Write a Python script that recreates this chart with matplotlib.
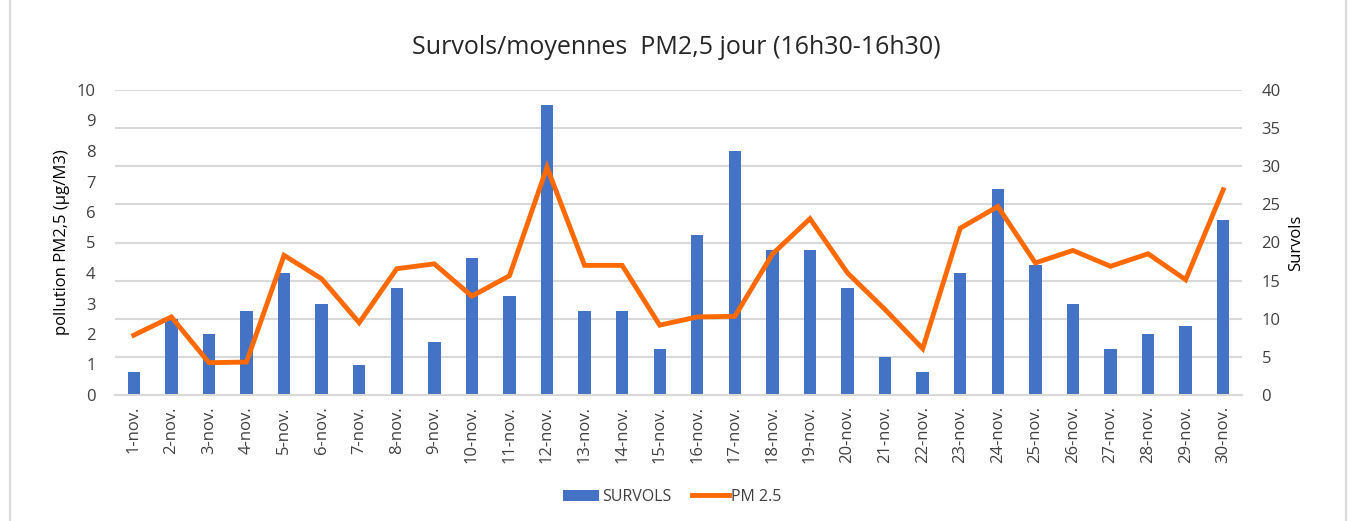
import matplotlib
matplotlib.use("Agg")
import matplotlib.pyplot as plt
from matplotlib.patches import Rectangle

plt.rcParams['font.family'] = ['Open Sans', 'DejaVu Sans']

days = [f"{d}-nov." for d in range(1, 31)]
survols = [3, 10, 8, 11, 16, 12, 4, 14, 7, 18, 13, 38, 11, 11, 6,
           21, 32, 19, 19, 14, 5, 3, 16, 27, 17, 12, 6, 8, 9, 23]
pm25 = [1.96, 2.56, 1.06, 1.08, 4.58, 3.81, 2.37, 4.14, 4.30, 3.24,
        3.91, 7.47, 4.25, 4.25, 2.29, 2.56, 2.58, 4.62, 5.78, 4.00,
        2.80, 1.52, 5.47, 6.18, 4.33, 4.74, 4.22, 4.63, 3.78, 6.73]

BAR = '#4472C4'
LINE = '#FF6A00'
TXT = '#404040'
GRID = '#D9D9D9'

fig = plt.figure(figsize=(13.52, 5.21), dpi=100)
fig.patches.append(Rectangle((10/1352, -0.01), (1346-10)/1352, 1.02, transform=fig.transFigure,
                             fill=False, edgecolor='#D9D9D9', linewidth=1.5))

ax = fig.add_axes([115/1352, 1 - 395/521, (1242 - 115)/1352, (395 - 90)/521])
ax2 = ax.twinx()

x = list(range(len(days)))
ax2.bar(x, survols, width=0.33, color=BAR, zorder=2, label='SURVOLS')
ax.plot(x, pm25, color=LINE, linewidth=3.5, solid_joinstyle='miter', zorder=3, label='PM 2.5')

ax.set_zorder(ax2.get_zorder() + 1)
ax.patch.set_visible(False)

ax.set_xlim(-0.5, len(days) - 0.5)
ax.set_ylim(0, 10)
ax2.set_ylim(0, 40)
ax.set_yticks(range(0, 11))
ax2.set_yticks(range(0, 41, 5))

ax2.yaxis.grid(True, color=GRID, linewidth=1.5)
ax2.set_axisbelow(True)

ax.set_xticks(x)
ax.set_xticklabels(days, rotation=90, fontsize=12, color=TXT)
for a in (ax, ax2):
    for s in a.spines.values():
        s.set_visible(False)
    a.tick_params(axis='y', length=0, labelsize=12, colors=TXT)
    a.tick_params(axis='x', length=0, colors=TXT)
ax2.spines['bottom'].set_visible(True)
ax2.spines['bottom'].set_color(GRID)
ax2.spines['bottom'].set_linewidth(1.5)
ax.tick_params(axis='y', pad=14)
ax2.tick_params(axis='y', pad=14)
ax.tick_params(axis='x', pad=8)

ax.set_ylabel('pollution PM2,5 (µg/M3)', fontsize=12, color='black', labelpad=5)
ax2.set_ylabel('Survols', fontsize=12, color='black', labelpad=5)

fig.text(0.5, 1 - 47/521, 'Survols/moyennes  PM2,5 jour (16h30-16h30)',
         ha='center', va='center', fontsize=18, color='#262626')

h2, l2 = ax2.get_legend_handles_labels()
h1, l1 = ax.get_legend_handles_labels()
fig.legend(h2 + h1, l2 + l1, loc='center', bbox_to_anchor=(672/1352, 1 - 497/521),
           ncol=2, frameon=False, fontsize=11.5, labelcolor=TXT,
           handlelength=2.3, handleheight=0.7, columnspacing=1.3, handletextpad=0.15)

fig.savefig('out.png', dpi=100)
